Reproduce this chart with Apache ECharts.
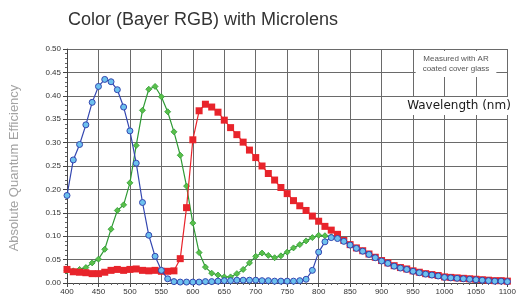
<!DOCTYPE html>
<html>
<head>
<meta charset="utf-8">
<script src="https://cdn.jsdelivr.net/npm/echarts@6/dist/echarts.min.js"></script>
<style>
  html, body { margin: 0; padding: 0; background: #fff; }
  #qe { width: 519px; height: 298px; }
</style>
</head>
<body>
<div id="qe"></div>
<script>
// wavelength (nm), one point every 10 nm
var wavelengths = [
    400, 410, 420, 430, 440, 450, 460, 470, 480, 490,
    500, 510, 520, 530, 540, 550, 560, 570, 580, 590,
    600, 610, 620, 630, 640, 650, 660, 670, 680, 690,
    700, 710, 720, 730, 740, 750, 760, 770, 780, 790,
    800, 810, 820, 830, 840, 850, 860, 870, 880, 890,
    900, 910, 920, 930, 940, 950, 960, 970, 980, 990,
    1000, 1010, 1020, 1030, 1040, 1050, 1060, 1070, 1080, 1090, 1100
];

var redQE = [
    0.029, 0.024, 0.023, 0.022, 0.020, 0.020, 0.023, 0.027, 0.029, 0.027,
    0.029, 0.030, 0.027, 0.026, 0.027, 0.025, 0.025, 0.026, 0.052, 0.161,
    0.306, 0.368, 0.382, 0.376, 0.365, 0.348, 0.332, 0.317, 0.301, 0.284,
    0.268, 0.250, 0.234, 0.220, 0.204, 0.191, 0.176, 0.165, 0.155, 0.143,
    0.132, 0.121, 0.113, 0.104, 0.091, 0.082, 0.075, 0.069, 0.062, 0.055,
    0.048, 0.043, 0.037, 0.033, 0.030, 0.026, 0.023, 0.020, 0.018, 0.016,
    0.013, 0.012, 0.011, 0.010, 0.009, 0.008, 0.007, 0.006, 0.005, 0.005, 0.004
];

// green stops at 820 nm
var greenQE = [
    0.026, 0.026, 0.029, 0.033, 0.043, 0.051, 0.072, 0.115, 0.155, 0.167,
    0.214, 0.294, 0.369, 0.414, 0.420, 0.398, 0.366, 0.323, 0.273, 0.207,
    0.128, 0.065, 0.034, 0.021, 0.017, 0.013, 0.013, 0.020, 0.029, 0.043,
    0.057, 0.064, 0.059, 0.054, 0.058, 0.066, 0.075, 0.082, 0.090, 0.097,
    0.102, 0.101, 0.099
];

var blueQE = [
    0.187, 0.263, 0.296, 0.338, 0.386, 0.420, 0.435, 0.430, 0.413, 0.376,
    0.325, 0.256, 0.172, 0.102, 0.057, 0.027, 0.009, 0.003, 0.002, 0.002,
    0.002, 0.002, 0.003, 0.003, 0.004, 0.005, 0.005, 0.006, 0.006, 0.006,
    0.006, 0.005, 0.005, 0.004, 0.004, 0.004, 0.004, 0.005, 0.008, 0.027,
    0.066, 0.088, 0.097, 0.095, 0.089, 0.081, 0.074, 0.068, 0.061, 0.054,
    0.047, 0.042, 0.036, 0.032, 0.029, 0.025, 0.022, 0.019, 0.017, 0.015,
    0.012, 0.011, 0.010, 0.009, 0.008, 0.007, 0.006, 0.005, 0.004, 0.004, 0.003
];

function pairs(values) {
    var out = [];
    for (var i = 0; i < values.length; i++) {
        out.push([wavelengths[i], values[i]]);
    }
    return out;
}

var font = 'Liberation Sans, Arial, sans-serif';

var chart = echarts.init(document.getElementById('qe'), null, { renderer: 'canvas' });

chart.setOption({
    animation: false,
    title: {
        text: 'Color (Bayer RGB) with Microlens',
        left: 63,
        top: 6,
        textStyle: {
            fontFamily: font,
            fontSize: 18,
            fontWeight: 'normal',
            color: '#333'
        }
    },
    grid: {
        left: 67,
        right: 3,
        top: 49,
        bottom: 15
    },
    xAxis: {
        type: 'value',
        min: 400,
        max: 1100,
        interval: 50,
        axisLine: { lineStyle: { color: '#444', width: 1 } },
        axisTick: { show: true, length: 4, lineStyle: { color: '#444' } },
        minorTick: { show: true, splitNumber: 5, length: 2, lineStyle: { color: '#666' } },
        axisLabel: {
            fontFamily: font,
            fontSize: 8,
            color: '#333',
            margin: 5,
            formatter: function (v) { return String(v); }
        },
        splitLine: { show: true, lineStyle: { color: '#6a6a6a', width: 1 } }
    },
    yAxis: {
        type: 'value',
        min: 0,
        max: 0.5,
        interval: 0.05,
        axisLine: { show: true, lineStyle: { color: '#444', width: 1 } },
        axisTick: { show: true, length: 4, lineStyle: { color: '#444' } },
        minorTick: { show: true, splitNumber: 5, length: 2, lineStyle: { color: '#666' } },
        axisLabel: {
            fontFamily: font,
            fontSize: 8,
            color: '#333',
            margin: 6,
            formatter: function (v) { return v.toFixed(2); }
        },
        splitLine: { show: true, lineStyle: { color: '#6a6a6a', width: 1 } }
    },
    graphic: [
        {
            type: 'text',
            x: 14,
            y: 168,
            rotation: Math.PI / 2,
            style: {
                text: 'Absolute Quantum Efficiency',
                fontFamily: font,
                fontSize: 13,
                fill: '#a3a3a3',
                align: 'center',
                verticalAlign: 'middle'
            }
        },
        {
            type: 'text',
            x: 456,
            y: 64,
            z: 10,
            style: {
                text: 'Measured with AR\ncoated cover glass',
                fontFamily: font,
                fontSize: 8,
                lineHeight: 10,
                fill: '#555',
                align: 'center',
                verticalAlign: 'middle',
                backgroundColor: '#fff',
                padding: [3, 7, 3, 7]
            }
        },
        {
            type: 'text',
            x: 459,
            y: 106,
            z: 10,
            style: {
                text: 'Wavelength (nm)',
                fontFamily: 'DejaVu Sans, sans-serif',
                fontSize: 12,
                fontWeight: 'normal',
                fill: '#1a1a1a',
                align: 'center',
                verticalAlign: 'middle',
                backgroundColor: '#fff',
                padding: [3, 4, 3, 4]
            }
        }
    ],
    series: [
        {
            name: 'Green',
            type: 'line',
            data: pairs(greenQE),
            symbol: 'diamond',
            symbolSize: 6,
            showAllSymbol: true,
            lineStyle: { color: '#2f9a35', width: 1.2 },
            itemStyle: { color: '#59c04a', borderColor: '#2f9a35', borderWidth: 0.8 },
            z: 2
        },
        {
            name: 'Red',
            type: 'line',
            data: pairs(redQE),
            symbol: 'rect',
            symbolSize: 7,
            showAllSymbol: true,
            lineStyle: { color: '#e8242b', width: 1.2 },
            itemStyle: { color: '#e8242b' },
            z: 3
        },
        {
            name: 'Blue',
            type: 'line',
            data: pairs(blueQE),
            symbol: 'circle',
            symbolSize: 6,
            showAllSymbol: true,
            lineStyle: { color: '#3346b0', width: 1.2 },
            itemStyle: { color: '#6cc1ee', borderColor: '#3346b0', borderWidth: 1 },
            z: 4
        }
    ]
});
</script>
</body>
</html>
